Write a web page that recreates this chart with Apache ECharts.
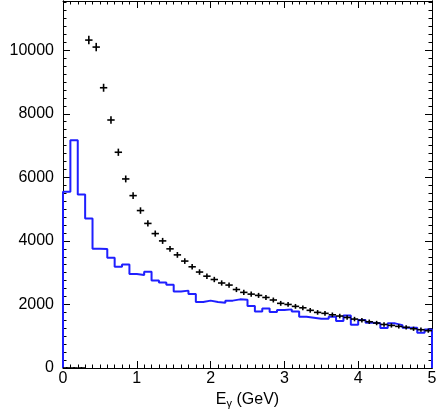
<!DOCTYPE html>
<html>
<head>
<meta charset="utf-8">
<script src="https://cdn.jsdelivr.net/npm/echarts@6/dist/echarts.min.js"></script>
<style>
  html, body { margin: 0; padding: 0; background: #fff; }
  #chart { width: 436px; height: 410px; }
</style>
</head>
<body>
<div id="chart"></div>
<script>
// bin width of both histograms (GeV)
var binWidth = 0.1;
var xTicks = [0, 1, 2, 3, 4, 5];

// blue histogram, one entry per 0.1 GeV bin from 0 to 5 GeV
var mcCounts = [
  5545, 7170, 5460, 4705, 3750, 3745, 3470, 3185, 3260, 2955,
  2930, 3030, 2755, 2690, 2620, 2410, 2435, 2330, 2075, 2120,
  2080, 2055, 2120, 2160, 2150, 1950, 1775, 1875, 1760, 1825,
  1845, 1775, 1615, 1585, 1550, 1550, 1615, 1480, 1655, 1365,
  1510, 1425, 1405, 1260, 1405, 1350, 1270, 1270, 1110, 1215
];

// black points (data), same binning
var dataCounts = [
  0, 0, 0, 10320, 10100, 8820, 7805, 6790, 5950, 5425,
  4955, 4550, 4230, 4000, 3750, 3560, 3365, 3185, 3020, 2890,
  2785, 2675, 2610, 2470, 2380, 2325, 2285, 2220, 2140, 2035,
  2000, 1940, 1895, 1815, 1750, 1720, 1675, 1635, 1590, 1540,
  1500, 1455, 1415, 1370, 1340, 1310, 1280, 1235, 1205, 1175
];

var font = 'Liberation Sans, Arial, Helvetica, sans-serif';

// step line through bin edges
var histLine = [[0, 0]];
for (var i = 0; i < mcCounts.length; i++) {
  histLine.push([i * binWidth, mcCounts[i]]);
}
histLine.push([mcCounts.length * binWidth, mcCounts[mcCounts.length - 1]]);
histLine.push([mcCounts.length * binWidth, 0]);

var points = [];
for (var j = 0; j < dataCounts.length; j++) {
  points.push([(j + 0.5) * binWidth, dataCounts[j]]);
}

function xAxisDef(pos) {
  return {
    type: 'value', position: pos, min: xTicks[0], max: xTicks[xTicks.length - 1], interval: 1,
    axisLine: { show: true, onZero: false, lineStyle: { color: '#000', width: 1 } },
    axisTick: { show: true, inside: true, length: 7, lineStyle: { color: '#000' } },
    minorTick: { show: true, splitNumber: 10, length: 3.5, lineStyle: { color: '#000' } },
    splitLine: { show: false },
    axisLabel: { show: pos === 'bottom', color: '#000', fontFamily: font, fontSize: 16, margin: 3 }
  };
}

function yAxisDef(pos, step, len, labels) {
  return {
    type: 'value', position: pos, min: 0, max: 11550, interval: step,
    axisLine: { show: true, onZero: false, lineStyle: { color: '#000', width: 1 } },
    axisTick: { show: true, inside: true, length: len, lineStyle: { color: '#000' } },
    splitLine: { show: false },
    axisLabel: {
      show: labels, color: '#000', fontFamily: font, fontSize: 16, margin: 9,
      formatter: function (v) { return v % 2000 === 0 ? String(v) : ''; }
    }
  };
}

var xBottom = xAxisDef('bottom');
xBottom.name = '{t|E}{s|γ}{t| (GeV)}';
xBottom.nameLocation = 'middle';
xBottom.nameGap = 20;
xBottom.nameTextStyle = {
  rich: {
    t: { fontFamily: font, fontSize: 16, color: '#000' },
    s: { fontFamily: font, fontSize: 11, color: '#000', padding: [9, 0, 0, 0] }
  }
};

var yLeft = yAxisDef('left', 2000, 7, true);
yLeft.name = 'Entries/0.1GeV';
yLeft.nameLocation = 'middle';
yLeft.nameGap = 48;
yLeft.nameTextStyle = { fontFamily: font, fontSize: 17, color: '#000' };

var myChart = echarts.init(document.getElementById('chart'), null, { renderer: 'canvas' });
myChart.setOption({
  animation: false,
  backgroundColor: '#fff',
  grid: { left: 63, right: 4, top: 1, bottom: 42, containLabel: false, outerBoundsMode: 'none' },
  xAxis: [xBottom, xAxisDef('top')],
  yAxis: [
    yLeft,
    yAxisDef('left', 250, 3.5, false),
    yAxisDef('right', 2000, 7, false),
    yAxisDef('right', 250, 3.5, false)
  ],
  series: [
    {
      type: 'line', step: 'end', data: histLine,
      xAxisIndex: 0, yAxisIndex: 0,
      showSymbol: false, clip: false, z: 3,
      lineStyle: { color: '#1f1fff', width: 2 }
    },
    {
      type: 'custom', data: points,
      xAxisIndex: 0, yAxisIndex: 0, z: 4,
      renderItem: function (params, api) {
        var x = api.value(0), y = api.value(1), e = Math.sqrt(y);
        var l = api.coord([x - binWidth / 2, y]);
        var r = api.coord([x + binWidth / 2, y]);
        var t = api.coord([x, y + e]);
        var b = api.coord([x, y - e]);
        var st = { stroke: '#000', lineWidth: 1.6 };
        return {
          type: 'group',
          children: [
            { type: 'line', shape: { x1: l[0], y1: l[1], x2: r[0], y2: r[1] }, style: st },
            { type: 'line', shape: { x1: t[0], y1: t[1] - 1, x2: b[0], y2: b[1] + 1 }, style: st }
          ]
        };
      }
    }
  ]
});
</script>
</body>
</html>
